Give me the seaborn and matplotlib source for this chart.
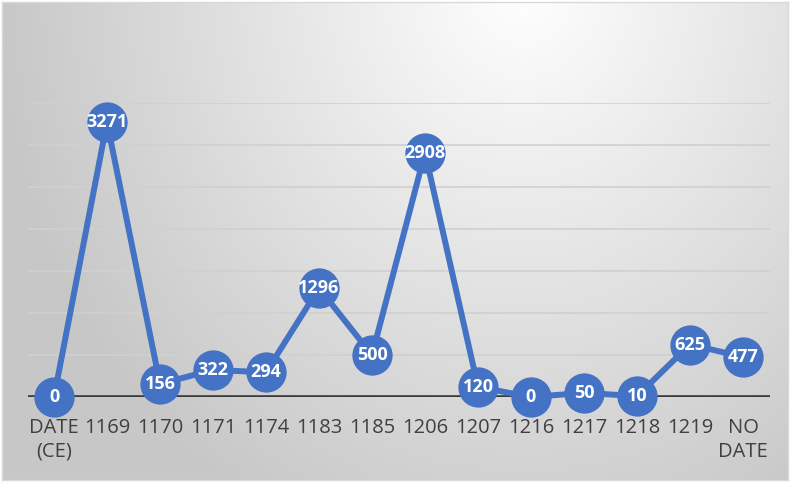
import numpy as np
import pandas as pd
import matplotlib
matplotlib.use("Agg")
import matplotlib.pyplot as plt
import seaborn as sns

categories = ["DATE\n(CE)", "1169", "1170", "1171", "1174", "1183", "1185",
              "1206", "1207", "1216", "1217", "1218", "1219", "NO\nDATE"]
values = [0, 3271, 156, 322, 294, 1296, 500, 2908, 120, 0, 50, 10, 625, 477]
grid_values = [500, 1000, 1500, 2000, 2500, 3000, 3500]

sns.set_theme(style="white")
plt.rcParams['font.family'] = ['Open Sans', 'DejaVu Sans']

W, H = 800, 483
fig = plt.figure(figsize=(W / 100, H / 100), dpi=100)
fig.patch.set_facecolor("white")

# background gradient panel
bg = fig.add_axes([2 / W, 3 / H, 786 / W, 478 / H])
yy, xx = np.mgrid[0:478, 0:786]
t = np.sqrt(((xx - 520) / 520.0) ** 2 + ((yy + 20) / 600.0) ** 2)
t = np.clip(t, 0, 1)
g = (255 - 55 * t ** 1.0) / 255.0
img = np.dstack([g, g, g])
bg.imshow(img, aspect="auto", extent=[0, 1, 0, 1], origin="upper")
bg.set_xticks([])
bg.set_yticks([])
for s in bg.spines.values():
    s.set_color("#d9d9d9")
    s.set_linewidth(1)
bg.set_zorder(0)

ax = fig.add_axes([27.5 / W, (H - 397) / H, 742 / W, 294 / H])
ax.set_zorder(1)
ax.patch.set_alpha(0)

df = pd.DataFrame({"cat": categories, "val": values})
df["pos"] = np.arange(len(df))
blue = "#4472C4"
sns.lineplot(data=df, x="pos", y="val", ax=ax, color=blue, linewidth=4.3,
             marker="o", markersize=29, markeredgewidth=0, clip_on=False,
             zorder=3)

ax.set_xlim(-0.5, len(categories) - 0.5)
ax.set_ylim(0, 3500)
for gv in grid_values:
    ax.axhline(gv, color="#d0d0d0", linewidth=1.2, zorder=1)
ax.axhline(0, color="#3a3a3a", linewidth=2.6, zorder=2)

for x, v in zip(df["pos"], df["val"]):
    ax.text(x, v, str(v), color="white", fontsize=13, fontweight="bold",
            ha="center", va="center", zorder=5)

ax.set_xticks(df["pos"])
ax.set_xticklabels(categories, fontsize=14.5, color="#404040", linespacing=1.25)
ax.tick_params(axis="x", length=0, pad=15)
for lbl in ax.get_xticklabels():
    lbl.set_verticalalignment("top")
ax.set_yticks([])
ax.set_xlabel("")
ax.set_ylabel("")
for s in ax.spines.values():
    s.set_visible(False)

fig.savefig("out.png", dpi=100, facecolor=fig.get_facecolor())
